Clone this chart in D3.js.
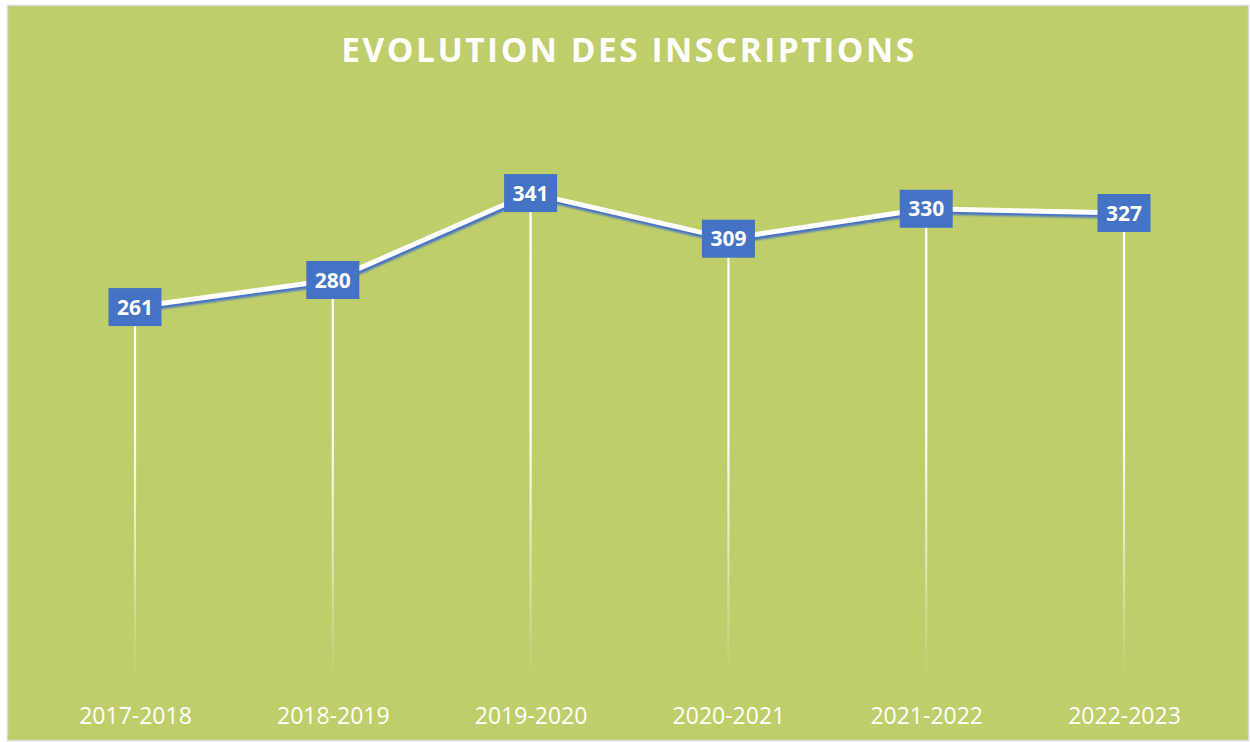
<!DOCTYPE html>
<html>
<head>
<meta charset="utf-8">
<script src="https://cdn.jsdelivr.net/npm/d3@7"></script>
<style>
  body { margin: 0; background: #ffffff; }
  svg { display: block; }
</style>
</head>
<body>
<div id="chart"></div>
<script>

var years = ["2017-2018", "2018-2019", "2019-2020", "2020-2021", "2021-2022", "2022-2023"];
var inscriptions = [261, 280, 341, 309, 330, 327];
var chartTitle = "EVOLUTION DES INSCRIPTIONS";

var width = 1250,
    height = 742,
    margin = {top: 109, right: 27, bottom: 63, left: 36};

var svg = d3.select("#chart").append("svg")
    .attr("width", width)
    .attr("height", height);

var defs = svg.append("defs");

// drop lines fade out toward the baseline
var grad = defs.append("linearGradient")
    .attr("id", "dropFade")
    .attr("gradientUnits", "userSpaceOnUse")
    .attr("x1", 0).attr("x2", 0)
    .attr("y1", 430).attr("y2", height - margin.bottom);
grad.append("stop").attr("offset", "0%").attr("stop-color", "#ffffff").attr("stop-opacity", 1);
grad.append("stop").attr("offset", "100%").attr("stop-color", "#ffffff").attr("stop-opacity", 0);

defs.append("filter")
    .attr("id", "soft")
    .append("feGaussianBlur")
    .attr("stdDeviation", 0.8);

// frame
svg.append("rect")
    .attr("x", 7.5)
    .attr("y", 5.5)
    .attr("width", width - 9)
    .attr("height", height - 7)
    .attr("fill", "#bfce6a")
    .attr("stroke", "#d9d9d9")
    .attr("stroke-width", 1.5);

svg.append("text")
    .attr("x", 629)
    .attr("y", 62)
    .attr("text-anchor", "middle")
    .attr("fill", "#ffffff")
    .style("font-family", "'Open Sans', sans-serif")
    .style("font-weight", "bold")
    .style("font-size", "33.5px")
    .style("letter-spacing", "2.5px")
    .text(chartTitle);

var x = d3.scalePoint()
    .domain(years)
    .range([135, 1124]);

var y = d3.scaleLinear()
    .domain([0, 400])
    .range([height - margin.bottom, margin.top]);

var data = years.map(function (d, i) { return {year: d, val: inscriptions[i]}; });

// x axis labels only, no line or ticks
var xAxis = svg.append("g")
    .attr("transform", "translate(0," + (height - margin.bottom) + ")")
    .call(d3.axisBottom(x).tickSize(0).tickPadding(29));
xAxis.select(".domain").remove();
xAxis.selectAll("text")
    .attr("fill", "#ffffff")
    .style("font-family", "'Open Sans', sans-serif")
    .style("font-size", "23px");

svg.append("g").selectAll("line")
    .data(data)
    .enter()
    .append("line")
    .attr("x1", function (d) { return x(d.year); })
    .attr("x2", function (d) { return x(d.year) + 0.01; })
    .attr("y1", function (d) { return y(d.val); })
    .attr("y2", y(0))
    .attr("stroke", "url(#dropFade)")
    .attr("stroke-width", 2.2);

var line = d3.line()
    .x(function (d) { return x(d.year); })
    .y(function (d) { return y(d.val); });

// blue shadow under the white line
svg.append("path")
    .datum(data)
    .attr("d", line)
    .attr("transform", "translate(1,3)")
    .attr("fill", "none")
    .attr("stroke", "#4472c4")
    .attr("stroke-width", 5)
    .attr("filter", "url(#soft)");

svg.append("path")
    .datum(data)
    .attr("d", line)
    .attr("fill", "none")
    .attr("stroke", "#ffffff")
    .attr("stroke-width", 5)
    .attr("stroke-linejoin", "round");

var labels = svg.append("g").selectAll("g")
    .data(data)
    .enter()
    .append("g")
    .attr("transform", function (d) { return "translate(" + x(d.year) + "," + y(d.val) + ")"; });

labels.append("rect")
    .attr("x", -26.5)
    .attr("y", -19)
    .attr("width", 53)
    .attr("height", 38)
    .attr("fill", "#4472c4");

labels.append("text")
    .attr("text-anchor", "middle")
    .attr("dy", "0.36em")
    .attr("fill", "#ffffff")
    .style("font-family", "'Open Sans', sans-serif")
    .style("font-weight", "bold")
    .style("font-size", "21px")
    .text(function (d) { return d.val; });

</script>
</body>
</html>
